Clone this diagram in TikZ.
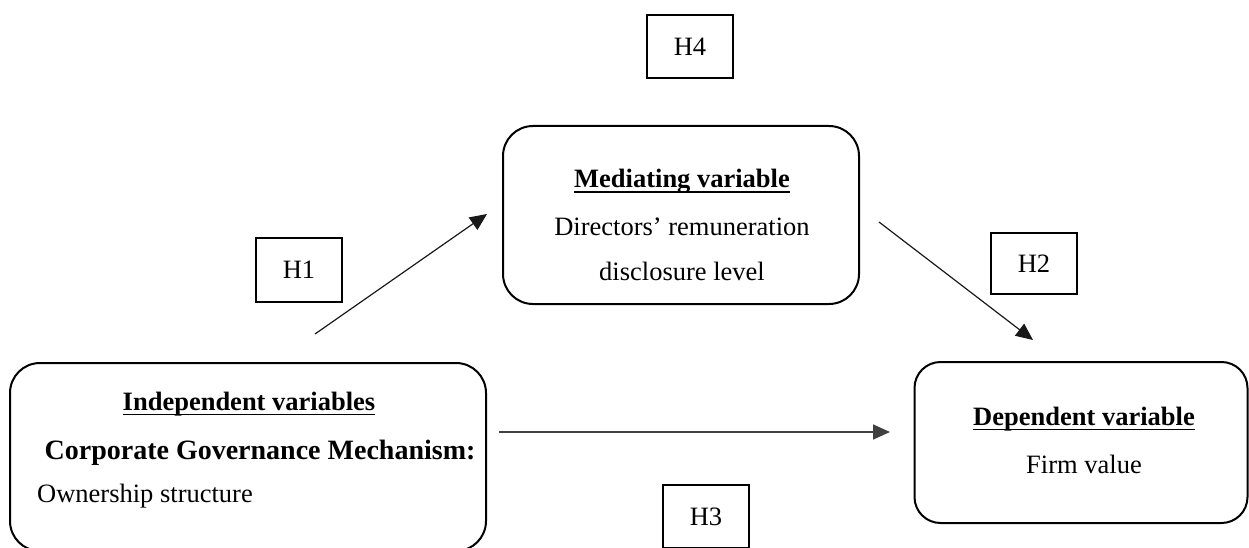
\documentclass[tikz,border=0pt]{standalone}
\usepackage{fontspec}
\setmainfont{Liberation Serif}
\usetikzlibrary{arrows.meta}
\newcommand{\hdrline}[1]{\setbox0\hbox{#1}\rlap{\rule[-5pt]{\wd0}{1.5pt}}\box0}
\begin{document}
\begin{tikzpicture}[x=1pt,y=-1pt,
    varbox/.style={draw=black, line width=2pt, rounded corners=30pt, inner sep=0pt},
    hypbox/.style={draw=black, line width=2pt, inner sep=0pt, minimum width=86pt, minimum height=62pt, font=\fontsize{26.5}{30}\selectfont},
    txt/.style={inner sep=0pt, anchor=base, font=\fontsize{26.5}{30}\selectfont},
    link/.style={-{Triangle[length=17pt,width=15pt]}, line width=1.2pt, draw=black!90}]
    \useasboundingbox (0,0) rectangle (1249,548);

    % variable boxes
    \node[varbox, minimum width=476pt, minimum height=188pt] (indep) at (248,457) {};
    \node[varbox, minimum width=356pt, minimum height=178pt] (medi) at (681,215) {};
    \node[varbox, rounded corners=26pt, minimum width=333pt, minimum height=161pt] (dep) at (1081,442.5) {};

    % texts
    \node[txt] (indeph) at (249,410) {\bfseries\hdrline{Independent variables}};
    \node[txt, font=\fontsize{28}{32}\selectfont] (indepm) at (260,459) {\bfseries Corporate Governance Mechanism:};
    \node[txt, anchor=base west] (indepo) at (37,502) {Ownership structure};
    \node[txt] (medih) at (682,188) {\bfseries\hdrline{Mediating variable}};
    \node[txt] (medid) at (682,235) {Directors’ remuneration};
    \node[txt] (medil) at (682,280) {disclosure level};
    \node[txt] (deph) at (1084,425) {\bfseries\hdrline{Dependent variable}};
    \node[txt] (depf) at (1084,473) {Firm value};

    % hypotheses
    \node[hypbox, minimum height=63pt] (h4) at (690,46.5) {H4};
    \node[hypbox, minimum height=64pt] (h1) at (299,270) {H1};
    \node[hypbox, minimum height=61pt] (h2) at (1034,263.5) {H2};
    \node[hypbox, minimum height=63pt] (h3) at (706,516.5) {H3};

    % paths
    \coordinate (p1s) at (315,334);
    \coordinate (p1e) at (487,214);
    \coordinate (p2s) at (879,222);
    \coordinate (p2e) at (1033,340);
    \coordinate (p3s) at (499,432);
    \coordinate (p3e) at (890,432);
    \draw[link] (p1s) -- (p1e);
    \draw[link] (p2s) -- (p2e);
    \draw[link, line width=1.8pt, draw=black!75] (p3s) -- (p3e);
\end{tikzpicture}
\end{document}
